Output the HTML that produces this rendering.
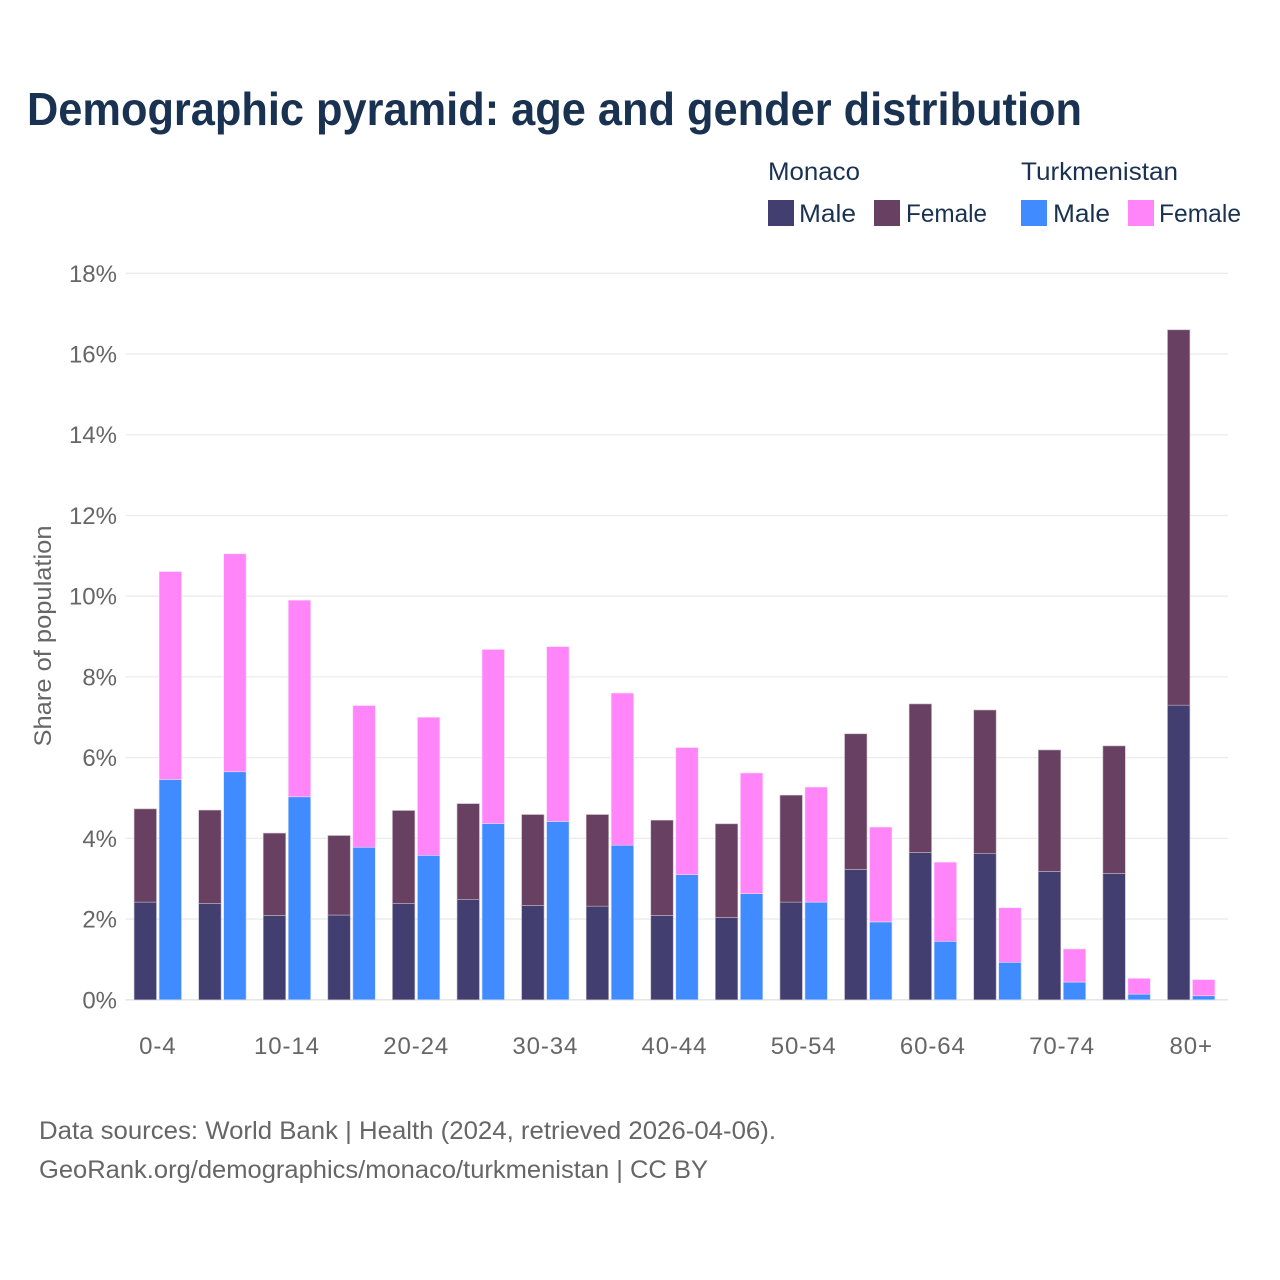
<!DOCTYPE html>
<html lang="en">
<head>
<meta charset="utf-8">
<title>Demographic pyramid</title>
<style>
html,body{margin:0;padding:0;background:#fff;width:1280px;height:1280px;overflow:hidden}
svg{display:block;font-family:"Liberation Sans",sans-serif}
</style>
</head>
<body>
<svg id="chart" width="1280" height="1280" viewBox="0 0 1280 1280" xmlns="http://www.w3.org/2000/svg">
  <rect x="0" y="0" width="1280" height="1280" fill="#fff"/>
  <text x="27" y="125" font-size="46" font-weight="700" fill="#1a3251" textLength="1055" lengthAdjust="spacingAndGlyphs">Demographic pyramid: age and gender distribution</text>

  <g font-size="25" fill="#1a3251">
    <text x="768" y="180" textLength="92" lengthAdjust="spacingAndGlyphs">Monaco</text>
    <text x="1021" y="180" textLength="157" lengthAdjust="spacingAndGlyphs">Turkmenistan</text>
    <rect x="768" y="200" width="26" height="26" fill="#433e70"/>
    <text x="799" y="222" textLength="57" lengthAdjust="spacingAndGlyphs">Male</text>
    <rect x="874" y="200" width="26" height="26" fill="#684162"/>
    <text x="906" y="222" textLength="81" lengthAdjust="spacingAndGlyphs">Female</text>
    <rect x="1021" y="200" width="26" height="26" fill="#3f8bff"/>
    <text x="1053" y="222" textLength="57" lengthAdjust="spacingAndGlyphs">Male</text>
    <rect x="1128" y="200" width="26" height="26" fill="#ff85f9"/>
    <text x="1159" y="222" textLength="82" lengthAdjust="spacingAndGlyphs">Female</text>
  </g>

  <g id="grid"></g>
  <g id="yticks"></g>
  <g id="bars"></g>
  <g id="xticks"></g>

  <text transform="translate(51,636) rotate(-90)" text-anchor="middle" font-size="24" fill="#666" textLength="221" lengthAdjust="spacingAndGlyphs">Share of population</text>

  <text x="39" y="1139" font-size="25" fill="#666" textLength="737" lengthAdjust="spacingAndGlyphs">Data sources: World Bank | Health (2024, retrieved 2026-04-06).</text>
  <text x="39" y="1178" font-size="25" fill="#666" textLength="669" lengthAdjust="spacingAndGlyphs">GeoRank.org/demographics/monaco/turkmenistan | CC BY</text>
</svg>
<script>
const categories = ["0-4","5-9","10-14","15-19","20-24","25-29","30-34","35-39","40-44","45-49","50-54","55-59","60-64","65-69","70-74","75-79","80+"];
const monacoMale = [2.42,2.39,2.09,2.10,2.39,2.49,2.34,2.32,2.09,2.04,2.42,3.23,3.65,3.63,3.18,3.13,7.30];
const monacoFemale = [2.31,2.31,2.04,1.97,2.30,2.37,2.25,2.27,2.36,2.32,2.65,3.36,3.68,3.55,3.01,3.16,9.30];
const turkmenistanMale = [5.46,5.65,5.03,3.78,3.58,4.37,4.42,3.83,3.10,2.63,2.42,1.93,1.45,0.93,0.44,0.14,0.10];
const turkmenistanFemale = [5.15,5.40,4.87,3.51,3.42,4.31,4.33,3.77,3.15,2.99,2.85,2.35,1.96,1.35,0.82,0.39,0.40];
const yTicks = [0,2,4,6,8,10,12,14,16,18];
const xTickLabels = ["0-4","10-14","20-24","30-34","40-44","50-54","60-64","70-74","80+"];

const NS = "http://www.w3.org/2000/svg";
const plotLeft = 125.5, plotRight = 1228, plotTop = 273.3, plotBottom = 999.8, yMax = 18;
const firstCenter = 157.8, lastCenter = 1191.2;
const barWidth = 22.4, barGap = 2.6;

function yScale(v){ return plotBottom - (v / yMax) * (plotBottom - plotTop); }
function xScale(i){ return firstCenter + (i / (categories.length - 1)) * (lastCenter - firstCenter); }

function drawSegment(parent, x, v0, v1, fill, stroke){
  const r = document.createElementNS(NS, "rect");
  r.setAttribute("x", x);
  r.setAttribute("y", yScale(v1));
  r.setAttribute("width", barWidth);
  r.setAttribute("height", Math.max(0, yScale(v0) - yScale(v1)));
  r.setAttribute("fill", fill);
  r.setAttribute("stroke", stroke);
  r.setAttribute("stroke-width", "0.6");
  parent.appendChild(r);
  return r;
}

const grid = document.getElementById("grid");
const yt = document.getElementById("yticks");
yTicks.forEach(function(t){
  const l = document.createElementNS(NS, "line");
  
  
  l.setAttribute("x1", plotLeft);
  l.setAttribute("x2", plotRight);
  l.setAttribute("y1", yScale(t));
  l.setAttribute("y2", yScale(t));
  l.setAttribute("stroke", t === 0 ? "#e6e6e6" : "#ebebeb");
  l.setAttribute("stroke-width", t === 0 ? "1.6" : "1.3");
  grid.appendChild(l);
  const s = document.createElementNS(NS, "text");
  
  
  s.setAttribute("x", 117);
  s.setAttribute("y", yScale(t) + 8.5);
  s.setAttribute("text-anchor", "end");
  s.setAttribute("font-size", "24");
  s.setAttribute("fill", "#666");
  s.textContent = t + "%";
  yt.appendChild(s);
});

const bars = document.getElementById("bars");
categories.forEach(function(c, i){
  const cx = xScale(i);
  const left = cx - barGap / 2 - barWidth;
  const right = cx + barGap / 2;
  const a = drawSegment(bars, left, 0, monacoMale[i], "#433e70", "#b9b7ca");
  
  
  const b = drawSegment(bars, left, monacoMale[i], monacoMale[i] + monacoFemale[i], "#684162", "#c6b6c4");
  
  
  const d = drawSegment(bars, right, 0, turkmenistanMale[i], "#3f8bff", "#c9defc");
  
  
  const e = drawSegment(bars, right, turkmenistanMale[i], turkmenistanMale[i] + turkmenistanFemale[i], "#ff85f9", "#ffd9fc");
  
  
});

const xt = document.getElementById("xticks");
xTickLabels.forEach(function(lbl){
  const s = document.createElementNS(NS, "text");
  
  
  s.setAttribute("x", xScale(categories.indexOf(lbl)));
  s.setAttribute("y", 1054);
  s.setAttribute("text-anchor", "middle");
  s.setAttribute("font-size", "24");
  s.setAttribute("letter-spacing", "0.9");
  s.setAttribute("fill", "#666");
  s.textContent = lbl;
  xt.appendChild(s);
});
</script>
</body>
</html>
